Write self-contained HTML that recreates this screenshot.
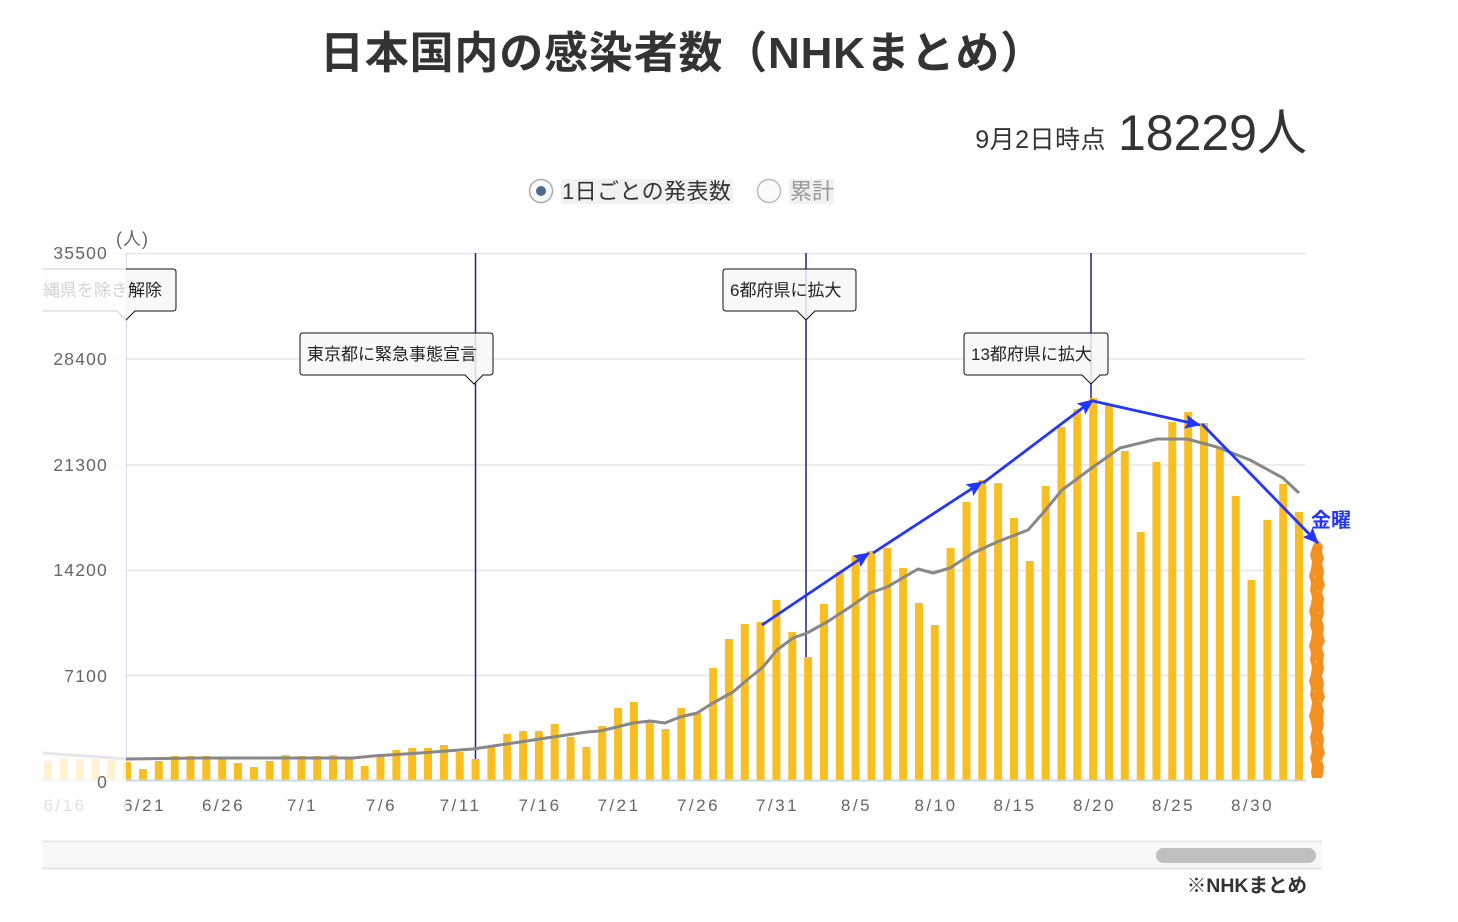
<!DOCTYPE html>
<html><head><meta charset="utf-8">
<style>
html,body{margin:0;padding:0;background:#fff;}
svg{display:block;font-family:"Liberation Sans","Noto Sans CJK JP",sans-serif;}
</style></head>
<body>
<svg width="1458" height="922" viewBox="0 0 1458 922" xmlns="http://www.w3.org/2000/svg">
<defs>
<clipPath id="plot"><rect x="42" y="220" width="1300" height="610"/></clipPath>
<marker id="ah" viewBox="0 0 16 14" refX="15" refY="7" markerWidth="16" markerHeight="14" markerUnits="userSpaceOnUse" orient="auto">
<path d="M0,0 L16,7 L0,14 L3,7 Z" fill="#2236ff"/>
</marker>
</defs>

<text x="320" y="68" font-size="44" font-weight="bold" fill="#333" letter-spacing="0.8">日本国内の感染者数（NHKまとめ）</text>

<text x="1106" y="148" font-size="25" fill="#333" text-anchor="end" letter-spacing="0.5">9月2日時点</text>
<text x="1307" y="150" font-size="50" fill="#333" text-anchor="end">18229人</text>

<circle cx="541" cy="191" r="11.5" fill="#fafafa" stroke="#aaa" stroke-width="1.5"/>
<circle cx="541" cy="191" r="5" fill="#4b6a8c"/>
<rect x="561" y="179" width="172" height="25" fill="#f1f1f1"/>
<text x="562" y="199" font-size="22" fill="#333" letter-spacing="0.4">1日ごとの発表数</text>
<circle cx="769" cy="191" r="11.5" fill="#fafafa" stroke="#bbb" stroke-width="1.5"/>
<rect x="789" y="179" width="45" height="25" fill="#f1f1f1"/>
<text x="790" y="199" font-size="22" fill="#999">累計</text>

<g clip-path="url(#plot)">
<g stroke="#e6e6e6" stroke-width="1.5">
<line x1="42" y1="253.5" x2="1306" y2="253.5"/>
<line x1="42" y1="359" x2="1306" y2="359"/>
<line x1="42" y1="465" x2="1306" y2="465"/>
<line x1="42" y1="570.5" x2="1306" y2="570.5"/>
<line x1="42" y1="675.5" x2="1306" y2="675.5"/>
</g>
<line x1="126" y1="253" x2="126" y2="780" stroke="#dcdcf0" stroke-width="2"/>
<g stroke="#1f1f9a" stroke-width="1.5">
<line x1="475.5" y1="253" x2="475.5" y2="780"/>
<line x1="806" y1="253" x2="806" y2="780"/>
<line x1="1091" y1="253" x2="1091" y2="780"/>
</g>

<g fill="#f8be22">
<rect x="44.0" y="761" width="8" height="19"/>
<rect x="59.8" y="758" width="8" height="22"/>
<rect x="75.7" y="759" width="8" height="21"/>
<rect x="91.5" y="759" width="8" height="21"/>
<rect x="107.3" y="760" width="8" height="20"/>
<rect x="123.2" y="762" width="8" height="18"/>
<rect x="139.0" y="769" width="8" height="11"/>
<rect x="154.8" y="761" width="8" height="19"/>
<rect x="170.7" y="756" width="8" height="24"/>
<rect x="186.5" y="756" width="8" height="24"/>
<rect x="202.3" y="756" width="8" height="24"/>
<rect x="218.2" y="759" width="8" height="21"/>
<rect x="234.0" y="763" width="8" height="17"/>
<rect x="249.9" y="767" width="8" height="13"/>
<rect x="265.7" y="761" width="8" height="19"/>
<rect x="281.5" y="755" width="8" height="25"/>
<rect x="297.4" y="756" width="8" height="24"/>
<rect x="313.2" y="756" width="8" height="24"/>
<rect x="329.0" y="755" width="8" height="25"/>
<rect x="344.9" y="759" width="8" height="21"/>
<rect x="360.7" y="766" width="8" height="14"/>
<rect x="376.5" y="756" width="8" height="24"/>
<rect x="392.4" y="750" width="8" height="30"/>
<rect x="408.2" y="748" width="8" height="32"/>
<rect x="424.0" y="748" width="8" height="32"/>
<rect x="439.9" y="745" width="8" height="35"/>
<rect x="455.7" y="752" width="8" height="28"/>
<rect x="471.6" y="759" width="8" height="21"/>
<rect x="487.4" y="747" width="8" height="33"/>
<rect x="503.2" y="734" width="8" height="46"/>
<rect x="519.1" y="731" width="8" height="49"/>
<rect x="534.9" y="731" width="8" height="49"/>
<rect x="550.7" y="724" width="8" height="56"/>
<rect x="566.6" y="737" width="8" height="43"/>
<rect x="582.4" y="747" width="8" height="33"/>
<rect x="598.2" y="726" width="8" height="54"/>
<rect x="614.1" y="708" width="8" height="72"/>
<rect x="629.9" y="702" width="8" height="78"/>
<rect x="645.8" y="720" width="8" height="60"/>
<rect x="661.6" y="729" width="8" height="51"/>
<rect x="677.4" y="708" width="8" height="72"/>
<rect x="693.3" y="713" width="8" height="67"/>
<rect x="709.1" y="668" width="8" height="112"/>
<rect x="724.9" y="639" width="8" height="141"/>
<rect x="740.8" y="624" width="8" height="156"/>
<rect x="756.6" y="622" width="8" height="158"/>
<rect x="772.4" y="600" width="8" height="180"/>
<rect x="788.3" y="632" width="8" height="148"/>
<rect x="804.1" y="657" width="8" height="123"/>
<rect x="820.0" y="604" width="8" height="176"/>
<rect x="835.8" y="572" width="8" height="208"/>
<rect x="851.6" y="556" width="8" height="224"/>
<rect x="867.5" y="551" width="8" height="229"/>
<rect x="883.3" y="548" width="8" height="232"/>
<rect x="899.1" y="568" width="8" height="212"/>
<rect x="915.0" y="603" width="8" height="177"/>
<rect x="930.8" y="625" width="8" height="155"/>
<rect x="946.6" y="548" width="8" height="232"/>
<rect x="962.5" y="502" width="8" height="278"/>
<rect x="978.3" y="480" width="8" height="300"/>
<rect x="994.1" y="483" width="8" height="297"/>
<rect x="1010.0" y="518" width="8" height="262"/>
<rect x="1025.8" y="561" width="8" height="219"/>
<rect x="1041.7" y="486" width="8" height="294"/>
<rect x="1057.5" y="427" width="8" height="353"/>
<rect x="1073.3" y="409" width="8" height="371"/>
<rect x="1089.2" y="398" width="8" height="382"/>
<rect x="1105.0" y="405" width="8" height="375"/>
<rect x="1120.8" y="451" width="8" height="329"/>
<rect x="1136.7" y="532" width="8" height="248"/>
<rect x="1152.5" y="462" width="8" height="318"/>
<rect x="1168.3" y="422" width="8" height="358"/>
<rect x="1184.2" y="412" width="8" height="368"/>
<rect x="1200.0" y="423" width="8" height="357"/>
<rect x="1215.8" y="447" width="8" height="333"/>
<rect x="1231.7" y="496" width="8" height="284"/>
<rect x="1247.5" y="580" width="8" height="200"/>
<rect x="1263.4" y="520" width="8" height="260"/>
<rect x="1279.2" y="484" width="8" height="296"/>
<rect x="1295.0" y="512" width="8" height="268"/>
</g>

<line x1="42" y1="780.5" x2="1306" y2="780.5" stroke="#ccd6eb" stroke-width="2"/>

<polyline fill="none" stroke="#888" stroke-width="3" stroke-linejoin="round" points="43,753 70,755 100,757 126,759 200,758 300,758 353,758 373,756 420,753 473,749 520,742 553,737 587,732 600,731 617,727 633,723 650,721 665,723 680,717 697,713 713,703 733,692 747,680 763,667 777,650 793,638 807,633 827,622 850,607 870,593 887,587 918,569 933,573 950,568 973,553 997,542 1028,530 1043,513 1062,490 1093,467 1120,448 1157,439 1187,439 1217,447 1250,460 1283,478 1299,493"/>

<g font-size="17" fill="#222">
<path d="M27,269 H173 Q176,269 176,272 V308 Q176,311 173,311 H135 L126,320 L117,311 H27 Q24,311 24,308 V272 Q24,269 27,269 Z" fill="rgba(247,247,247,0.85)" stroke="#111" stroke-width="1"/>
<text x="26" y="296">沖縄県を除き解除</text>
<path d="M303,333 H490 Q493,333 493,336 V372 Q493,375 490,375 H483 L474,384 L465,375 H303 Q300,375 300,372 V336 Q300,333 303,333 Z" fill="rgba(247,247,247,0.85)" stroke="#111" stroke-width="1"/>
<text x="307" y="360">東京都に緊急事態宣言</text>
<path d="M726,269 H853 Q856,269 856,272 V308 Q856,311 853,311 H815 L806,320 L797,311 H726 Q723,311 723,308 V272 Q723,269 726,269 Z" fill="rgba(247,247,247,0.85)" stroke="#111" stroke-width="1"/>
<text x="730" y="296">6都府県に拡大</text>
<path d="M967,333 H1105 Q1108,333 1108,336 V372 Q1108,375 1105,375 H1100 L1091,384 L1082,375 H967 Q964,375 964,372 V336 Q964,333 967,333 Z" fill="rgba(247,247,247,0.85)" stroke="#111" stroke-width="1"/>
<text x="971" y="360">13都府県に拡大</text>
</g>

<g font-size="17" fill="#666" text-anchor="middle" letter-spacing="2.5">
<text x="65" y="811">6/16</text>
<text x="144.5" y="811">6/21</text>
<text x="223.5" y="811">6/26</text>
<text x="302.5" y="811">7/1</text>
<text x="381.5" y="811">7/6</text>
<text x="460.5" y="811">7/11</text>
<text x="540" y="811">7/16</text>
<text x="619" y="811">7/21</text>
<text x="698.5" y="811">7/26</text>
<text x="777.5" y="811">7/31</text>
<text x="856.5" y="811">8/5</text>
<text x="936" y="811">8/10</text>
<text x="1015" y="811">8/15</text>
<text x="1094.5" y="811">8/20</text>
<text x="1173.5" y="811">8/25</text>
<text x="1252.5" y="811">8/30</text>
</g>

<rect x="42" y="222" width="84" height="600" fill="#fff" opacity="0.8"/>
</g>

<polygon fill="#f39020" points="1315,541 1320,542 1323,546 1322,552 1324,558 1322,564 1324,571 1323,578 1325,585 1322,592 1324,599 1323,606 1324,613 1322,620 1324,627 1323,634 1325,641 1322,648 1324,655 1323,662 1324,669 1322,676 1324,683 1323,690 1325,697 1322,704 1324,711 1323,718 1324,725 1322,732 1324,739 1323,746 1325,753 1322,760 1324,767 1323,774 1322,778 1312,778 1311,772 1312,765 1310,758 1312,751 1311,744 1310,737 1312,730 1311,723 1309,716 1311,709 1312,702 1310,695 1311,688 1309,681 1311,674 1312,667 1310,660 1311,653 1309,646 1311,639 1312,632 1310,625 1311,618 1309,611 1311,604 1312,597 1310,590 1311,583 1309,576 1311,569 1312,562 1310,555 1312,548"/>
<g fill="#fbb35a" opacity="0.8">
<rect x="1314" y="575" width="2" height="3"/><rect x="1318" y="612" width="2" height="2"/><rect x="1315" y="660" width="2" height="3"/><rect x="1319" y="700" width="2" height="2"/><rect x="1316" y="742" width="2" height="3"/><rect x="1320" y="760" width="2" height="2"/><rect x="1317" y="590" width="2" height="2"/><rect x="1314" y="690" width="2" height="2"/>
</g>

<g stroke="#2236ff" stroke-width="2.8" fill="none" marker-end="url(#ah)">
<line x1="762" y1="625" x2="869" y2="553"/>
<line x1="873" y1="553" x2="982" y2="482"/>
<line x1="983" y1="483" x2="1093" y2="400"/>
<line x1="1093" y1="401" x2="1200" y2="425"/>
<line x1="1202" y1="424" x2="1318" y2="543"/>
</g>
<text x="1311" y="527" font-size="20" font-weight="bold" fill="#2236ff">金曜</text>

<g font-size="17.5" fill="#666" text-anchor="end" letter-spacing="1.2">
<text x="108" y="259">35500</text>
<text x="108" y="365">28400</text>
<text x="108" y="471">21300</text>
<text x="108" y="576">14200</text>
<text x="108" y="682">7100</text>
<text x="108" y="788">0</text>
</g>
<text x="116" y="245" font-size="18" fill="#666" letter-spacing="1">(人)</text>

<rect x="42" y="841" width="1280" height="28" fill="#f8f8f8"/>
<line x1="42" y1="841.5" x2="1322" y2="841.5" stroke="#e6e6e6" stroke-width="2"/>
<line x1="42" y1="868.5" x2="1322" y2="868.5" stroke="#e6e6e6" stroke-width="2"/>
<rect x="1156" y="848" width="160" height="15" rx="7.5" fill="#bfbfbf"/>

<text x="1307" y="892" font-size="19.5" font-weight="bold" fill="#333" text-anchor="end">※NHKまとめ</text>
</svg>
</body></html>
